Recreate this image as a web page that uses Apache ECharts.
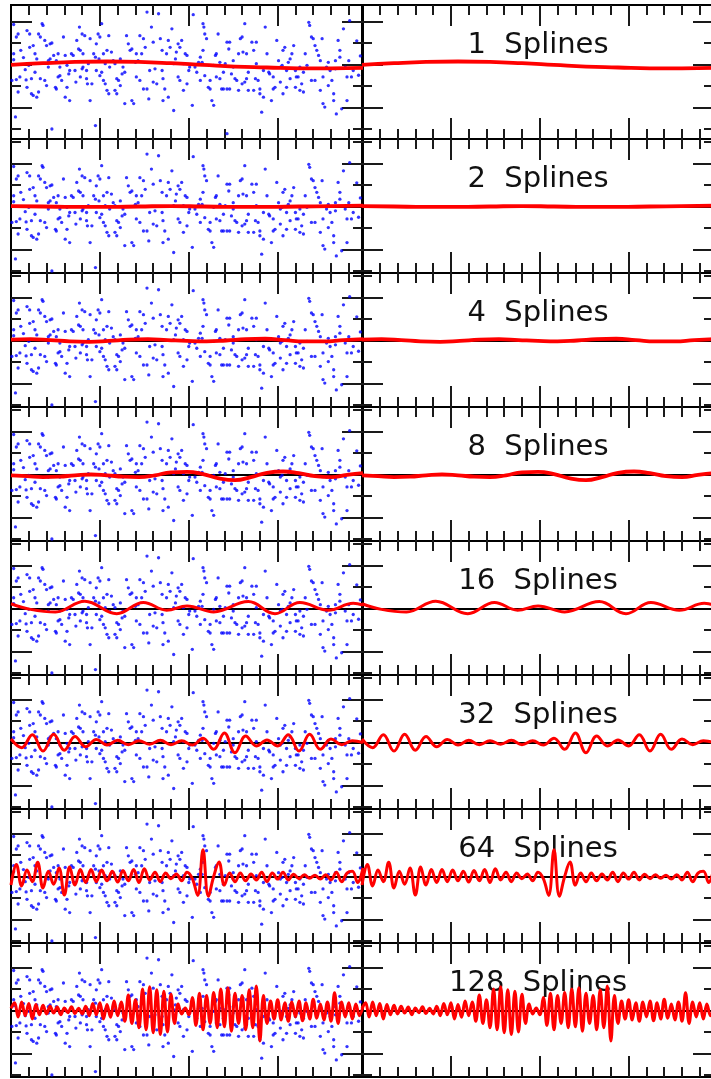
<!DOCTYPE html>
<html>
<head>
<meta charset="utf-8">
<script src="https://cdn.jsdelivr.net/npm/echarts@6/dist/echarts.min.js"></script>
<style>
  html, body { margin: 0; padding: 0; overflow: hidden; background: #fff; }
  #chart { width: 720px; height: 1079px; }
</style>
</head>
<body>
<div id="chart"></div>
<script>
// Number of spline basis functions used for each row's fit
const splineCounts = [1, 2, 4, 8, 16, 32, 64, 128];

// Tick positions shared by every panel
const xRange = [0, 396];
const xMajorTicks = [100, 200, 300];
const xMinorTicks = [20, 40, 60, 80, 120, 140, 160, 180, 220, 240, 260, 280, 320, 340, 360, 380];
const yMajorTicks = [-1, 0, 1];
const yMinorTicks = [-1.5, -0.5, 0.5, 1.5];
const yRangeFirstRow = [-1.733, 1.384];
const yRange = [-1.547, 1.570];

// Noisy samples [x, y]
const samples = [
  [3,0.93],[8,0.71],[6,0.64],[3,0.25],[3,0.11],[14,0.16],[16,-0.12],[10,-0.29],[1,-0.37],[6,-0.35],
  [8,-0.64],[5,-1.22],[18,0.79],[21,0.71],[21,0.40],[20,-0.02],[23,-0.33],[17,-0.36],[18,-0.53],[23,-0.68],
  [11,0.33],[25,0.44],[27,0.25],[29,0.13],[31,0.71],[33,0.64],[35,0.95],[36,0.91],[38,0.56],[40,0.44],
  [44,0.48],[46,0.50],[42,0.09],[44,0.13],[27,-0.18],[29,-0.76],[31,-0.64],[25,-0.72],[33,-0.33],[38,-0.37],
  [42,-0.06],[40,-0.49],[46,-1.50],[48,0.21],[51,0.09],[53,-0.29],[55,-0.26],[57,-0.37],[50,-0.53],[51,-0.57],
  [59,0.64],[61,0.21],[63,-0.02],[65,-0.22],[66,-0.14],[63,-0.53],[61,-0.76],[66,-0.84],[55,-0.06],[53,0.25],
  [68,0.25],[70,0.21],[72,-0.14],[74,0.56],[76,0.36],[77,0.87],[78,0.33],[80,0.71],[81,0.25],[83,0.67],
  [81,-0.06],[80,-0.10],[85,-0.14],[87,0.02],[89,0.60],[85,-0.33],[86,-0.45],[91,-0.45],[89,-0.84],[78,-0.29],
  [73,-0.41],[93,0.25],[95,0.17],[96,0.48],[98,0.71],[100,0.64],[102,0.95],[99,0.13],[104,0.25],[106,0.02],
  [108,0.33],[110,0.67],[111,-0.06],[102,-0.18],[106,-0.45],[108,-0.60],[110,-0.68],[96,-0.14],[95,-1.42],[100,-0.26],
  [104,-0.37],[113,0.29],[115,0.09],[117,0.02],[119,-0.33],[121,-0.37],[117,-0.60],[119,-0.68],[123,-0.49],[125,-0.22],
  [128,-0.91],[130,0.67],[132,0.48],[134,0.33],[126,-0.06],[128,-0.18],[123,0.13],[136,0.36],[138,-0.91],[140,0.05],
  [141,0.25],[143,0.09],[145,0.67],[147,0.25],[149,0.60],[151,0.40],[141,-0.29],[149,-0.57],[153,-0.57],[155,-0.80],
  [153,1.22],[156,-0.14],[145,-0.37],[136,-0.84],[158,0.87],[160,0.52],[162,-0.10],[164,-0.45],[166,1.18],[168,0.60],
  [170,0.33],[171,-0.33],[173,-0.57],[175,0.25],[177,0.56],[179,0.40],[171,-0.84],[181,0.83],[177,-0.76],[170,-0.14],
  [160,-0.41],[183,0.02],[185,0.13],[186,0.29],[188,0.48],[190,0.40],[192,0.56],[194,0.02],[196,0.25],[198,0.21],
  [200,-0.14],[201,-0.06],[190,-0.37],[183,-1.07],[188,-0.29],[198,-0.45],[194,-0.60],[205,1.16],[207,-0.06],[209,-0.18],
  [211,0.05],[213,0.17],[215,0.05],[216,0.95],[217,0.87],[218,0.71],[220,0.60],[216,0.33],[222,-0.53],[224,-0.57],
  [226,-0.84],[228,-0.95],[218,-0.26],[213,-0.37],[204,-0.95],[224,-0.37],[228,-0.02],[230,0.21],[231,0.25],[233,0.71],
  [235,0.05],[239,-0.18],[241,0.02],[243,0.52],[245,0.36],[246,0.52],[237,-0.57],[239,-0.57],[243,-0.57],[246,-0.57],
  [235,-0.33],[231,-0.29],[243,-1.61],[248,-0.22],[250,0.09],[252,-0.33],[254,-0.37],[256,0.25],[258,0.60],[260,0.64],
  [261,0.29],[263,0.95],[265,0.25],[267,-0.18],[256,-0.60],[260,-0.45],[263,-0.41],[267,-0.60],[265,-0.33],[250,-0.06],
  [271,0.52],[273,0.33],[275,-0.33],[276,0.52],[278,-0.37],[280,-0.57],[282,-1.11],[284,-0.14],[286,0.87],[288,0.25],
  [290,-0.18],[291,-0.22],[280,-0.68],[284,-0.76],[273,-0.60],[293,-0.84],[276,0.02],[295,-0.57],[297,-0.53],[299,0.56],
  [301,0.09],[303,-0.06],[305,-0.02],[306,0.33],[308,0.40],[310,-0.14],[312,0.05],[314,0.13],[303,-0.41],[306,-0.68],
  [310,-0.53],[314,-0.33],[295,-0.29],[316,0.25],[318,0.44],[320,-0.14],[321,-0.29],[323,-0.29],[325,-0.60],[327,-0.45],
  [329,-0.64],[331,0.25],[333,-0.02],[335,0.98],[336,0.91],[320,-0.53],[325,-0.06],[329,-0.18],[338,0.64],[340,0.60],
  [342,0.44],[344,0.33],[346,0.21],[348,0.09],[350,0.60],[351,-0.91],[353,-0.99],[355,-0.06],[357,0.05],[359,-0.14],
  [342,-0.37],[348,-0.60],[338,-0.37],[351,-0.29],[357,-0.49],[361,-0.37],[363,-0.68],[365,-0.10],[366,-1.15],[368,0.56],
  [370,0.33],[372,-1.03],[374,0.83],[376,-0.06],[378,-0.29],[380,0.09],[381,1.02],[383,-0.29],[378,-0.84],[385,-0.14],
  [370,0.17],[365,0.09],[363,-0.84],[391,-0.25],[393,0.20],[389,0.55]
];

// Fitted curves, one per spline count, as [x, y] knots
const fit1 = [[0,-0.01],[36,0.03],[72,0.06],[108,0.07],[144,0.06],[180,0.03],[216,-0.01],[252,-0.05],[288,-0.07],[324,-0.09],[360,-0.09],[396,-0.08]];
const fit2 = [[0,0.01],[36,0.0],[72,-0.01],[108,-0.01],[144,0.0],[180,0.01],[216,0.0],[252,-0.01],[288,-0.01],[324,0.0],[360,0.01],[396,0.02]];
const fit4 = [[0,0.02],[22,0.03],[44,0.01],[66,-0.02],[88,-0.03],[110,-0.01],[132,0.02],[154,0.03],[176,0.01],[198,-0.01],
  [220,-0.02],[242,0.0],[264,0.03],[286,0.04],[308,0.01],[330,-0.02],[352,-0.02],[374,0.01],[396,0.03]];
const fit8 = [[0,-0.02],[18,-0.04],[36,-0.06],[54,-0.05],[72,-0.02],[90,0.0],[108,-0.02],[126,-0.05],[144,-0.06],[162,-0.02],
  [180,0.05],[198,0.06],[216,0.01],[234,-0.09],[252,-0.13],[270,-0.06],[288,0.04],[306,0.07],[324,0.03],[342,-0.04],
  [360,-0.06],[378,-0.01],[396,0.03]];
const fit16 = [[0,0.11],[22,-0.02],[50,-0.08],[83,0.17],[119,-0.12],[149,0.14],[175,-0.04],[198,0.06],[228,-0.08],[267,0.16],
  [297,-0.12],[325,0.14],[357,-0.04],[385,0.12],[396,0.08]];
const fit32 = [[0,0.08],[12,-0.12],[24,0.18],[36,-0.2],[48,0.19],[60,-0.18],[72,0.14],[84,-0.1],[96,0.07],[108,-0.06],
  [120,0.05],[132,-0.05],[144,0.04],[156,-0.04],[168,0.05],[180,-0.05],[192,0.04],[204,-0.06],[216,0.1],[228,-0.16],
  [240,0.22],[252,-0.24],[264,0.15],[276,-0.08],[288,0.06],[300,-0.08],[312,0.18],[324,-0.2],[336,0.19],[348,-0.16],
  [360,0.08],[372,-0.05],[384,0.04],[396,0.0]];
const fit64 = [[0,-0.2],[6,0.28],[12,-0.22],[18,0.15],[24,-0.12],[30,0.33],[36,-0.27],[42,0.12],[48,-0.18],[54,0.2],
  [60,-0.43],[66,0.22],[72,-0.2],[78,0.16],[84,-0.14],[90,0.16],[96,-0.12],[102,0.15],[108,-0.1],[114,0.12],
  [120,-0.13],[126,0.14],[132,-0.1],[138,0.16],[144,-0.14],[150,0.18],[156,-0.08],[162,0.1],[168,-0.12],[174,0.08],
  [180,-0.05],[186,0.06],[192,-0.1],[198,0.1],[204,-0.05],[210,-0.44],[216,0.62],[222,-0.46],[228,0.0],[234,0.34],
  [240,-0.2],[246,0.08],[252,-0.12],[258,0.08],[264,-0.1],[270,0.06],[276,-0.08],[282,0.1],[288,-0.12],[294,0.08],
  [300,-0.06],[306,0.1],[312,-0.08],[318,0.05],[324,-0.05],[330,0.04],[336,-0.04],[342,0.03],[348,-0.06],[354,0.04],
  [360,-0.08],[366,0.1],[372,-0.12],[378,0.08],[384,0.12],[390,-0.14],[396,0.2]];
const fit128 = [[0,0.05],[4,0.18],[8,-0.15],[12,0.2],[16,-0.12],[20,0.16],[24,-0.2],[28,0.14],[32,-0.1],[36,0.12],
  [40,-0.08],[44,0.1],[48,-0.06],[52,0.08],[56,-0.1],[60,0.06],[64,-0.05],[68,0.09],[72,-0.07],[76,0.05],
  [80,-0.08],[84,0.1],[88,-0.12],[92,0.16],[96,-0.1],[100,0.18],[104,-0.2],[108,0.14],[112,-0.16],[116,0.22],
  [120,-0.12],[124,0.2],[128,-0.25],[132,0.36],[136,-0.3],[140,0.25],[144,-0.4],[148,0.5],[152,-0.45],[156,0.55],
  [160,-0.52],[164,0.48],[168,-0.56],[172,0.45],[176,-0.5],[180,0.38],[184,-0.3],[188,0.15],[192,-0.08],[196,0.06],
  [200,-0.1],[204,0.3],[208,-0.35],[212,0.4],[216,-0.45],[220,0.35],[224,-0.3],[228,0.42],[232,-0.4],[236,0.5],
  [240,-0.38],[244,0.53],[248,-0.48],[252,0.4],[256,-0.3],[260,0.35],[264,-0.45],[268,0.48],[272,-0.4],[276,0.57],
  [280,-0.71],[284,0.35],[288,-0.3],[292,0.22],[296,-0.2],[300,0.25],[304,-0.22],[308,0.18],[312,-0.25],[316,0.2],
  [320,-0.15],[324,0.22],[328,-0.24],[332,0.18],[336,-0.2],[340,0.26],[344,-0.18],[348,0.15],[352,-0.22],[356,0.2],
  [360,-0.25],[364,0.41],[368,-0.3],[372,0.2],[376,-0.15],[380,0.18],[384,-0.2],[388,0.15],[392,-0.12],[396,0.1]];
const fits = [fit1, fit2, fit4, fit8, fit16, fit32, fit64, fit128];

// Panel layout
const rowTop = 5, rowHeight = 134, panelWidth = 352;
const columnLeft = [11, 362];

function tickAxis(gridIndex, position, values, length, range) {
  return {
    type: 'value', gridIndex, position, min: range[0], max: range[1],
    axisLine: { show: false, onZero: false },
    axisLabel: { show: false },
    splitLine: { show: false },
    axisTick: { show: true, inside: true, length, customValues: values,
      lineStyle: { color: '#1a1a1a', width: 2 } }
  };
}

const grids = [], xAxes = [], yAxes = [], series = [], titles = [];
splineCounts.forEach((count, r) => {
  const top = rowTop + r * rowHeight;
  const yr = r === 0 ? yRangeFirstRow : yRange;
  for (let c = 0; c < 2; c++) {
    const g = grids.length;
    grids.push({ left: columnLeft[c], top, width: panelWidth, height: rowHeight,
      show: true, borderColor: '#000', borderWidth: 2, backgroundColor: 'transparent' });
    const xi = xAxes.length;
    xAxes.push(tickAxis(g, 'bottom', xMinorTicks, 10, xRange));
    xAxes.push(tickAxis(g, 'bottom', xMajorTicks, 21, xRange));
    xAxes.push(tickAxis(g, 'top', xMinorTicks, 10, xRange));
    xAxes.push(tickAxis(g, 'top', xMajorTicks, 21, xRange));
    const yi = yAxes.length;
    yAxes.push(tickAxis(g, 'left', yMinorTicks, 10, yr));
    yAxes.push(tickAxis(g, 'left', yMajorTicks, 21, yr));
    yAxes.push(tickAxis(g, 'right', yMinorTicks, 10, yr));
    yAxes.push(tickAxis(g, 'right', yMajorTicks, 21, yr));
    if (c === 0) {
      series.push({ type: 'scatter', xAxisIndex: xi, yAxisIndex: yi, data: samples,
        symbolSize: 3.3, itemStyle: { color: '#0000ff' }, z: 2, silent: true });
    }
    const fitLine = { type: 'line', xAxisIndex: xi, yAxisIndex: yi, data: fits[r],
      smooth: r < 4 ? true : 0.4, symbol: 'none', z: 3, silent: true,
      lineStyle: { color: '#ff0000', width: r < 4 ? 3.8 : 3.0 } };
    if (r > 0) {
      fitLine.markLine = { silent: true, symbol: 'none', z: 1, label: { show: false },
        lineStyle: { color: '#000', width: 2, type: 'solid' }, data: [{ yAxis: 0 }] };
    }
    series.push(fitLine);
  }
  titles.push({ text: count + '  Splines', left: columnLeft[1] + panelWidth / 2, top: top + 26,
    textAlign: 'center', padding: 0, z: 1,
    textStyle: { fontFamily: 'DejaVu Sans', fontSize: 29, fontWeight: 'normal', color: '#111' } });
});

const chart = echarts.init(document.getElementById('chart'), null, { renderer: 'canvas' });
chart.setOption({
  animation: false,
  backgroundColor: '#fff',
  title: titles,
  grid: grids,
  xAxis: xAxes,
  yAxis: yAxes,
  series
});
</script>
</body>
</html>
